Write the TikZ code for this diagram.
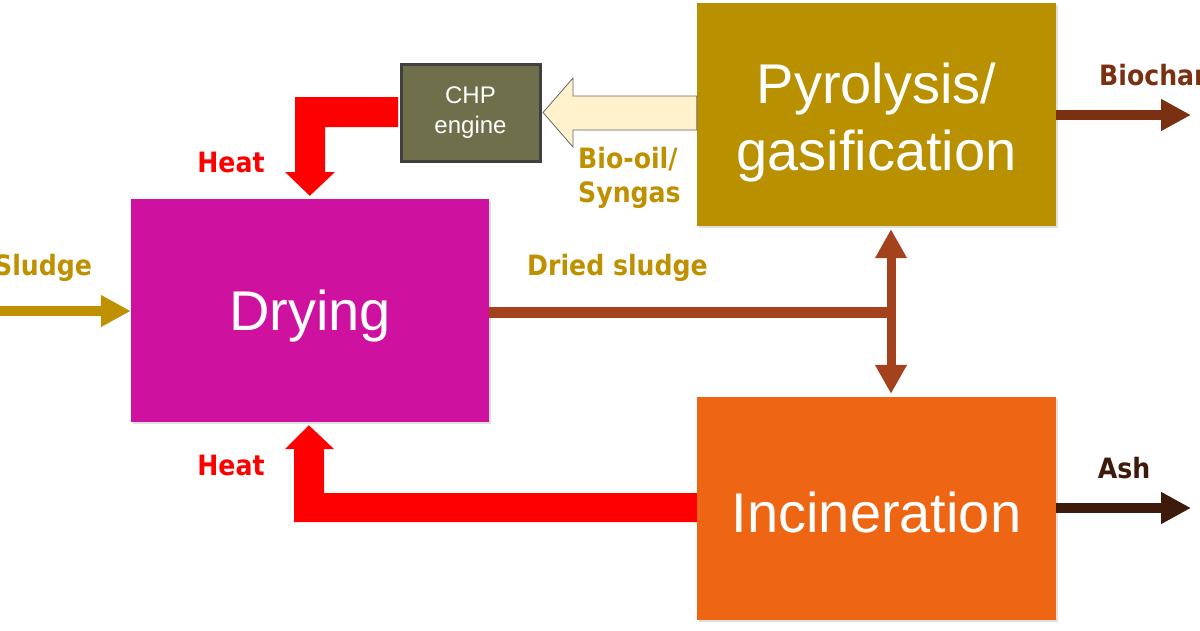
\documentclass[tikz,border=0pt]{standalone}
\usepackage{fontspec}
\setmainfont{Liberation Sans}
\newfontfamily\lblfont{DejaVu Sans Condensed}
\usetikzlibrary{arrows.meta,calc,shadows}
\definecolor{dryc}{RGB}{207,17,160}
\definecolor{pyrc}{RGB}{184,144,0}
\definecolor{incc}{RGB}{238,102,20}
\definecolor{chpc}{RGB}{111,111,75}
\definecolor{chpb}{RGB}{64,64,64}
\definecolor{goldc}{RGB}{191,144,0}
\definecolor{driedc}{RGB}{165,66,30}
\definecolor{charc}{RGB}{122,49,18}
\definecolor{ashc}{RGB}{61,26,10}
\definecolor{creamc}{RGB}{255,242,204}
\begin{document}
\begin{tikzpicture}[x=1pt,y=-1pt,
  box/.style={rectangle,inner sep=0pt,
     drop shadow={shadow xshift=2pt,shadow yshift=-2pt,opacity=0.25}},
  boxtext/.style={text=white,align=center,font=\fontsize{56}{67}\selectfont},
  lbl/.style={font=\lblfont\bfseries\fontsize{28}{34}\selectfont,inner sep=0pt},
  flow/.style={line width=10pt,-{Triangle[length=30pt,width=30pt]}},
  dflow/.style={line width=9pt,color=driedc,{Triangle[length=29pt,width=30pt]}-{Triangle[length=29pt,width=30pt]}}
]
\useasboundingbox (0,0) rectangle (1200,630);
\fill[white] (0,0) rectangle (1200,630);

% boxes
\node[box,fill=dryc,minimum width=358pt,minimum height=223pt,
      label={[boxtext,yshift=-6pt]center:Drying}] (dry) at (310,310.5) {};
\node[box,fill=pyrc,minimum width=359pt,minimum height=223pt,
      label={[boxtext,yshift=-8pt]center:Pyrolysis/\\gasification}] (pyr) at (876.5,114.5) {};
\node[box,fill=incc,minimum width=359pt,minimum height=223pt,
      label={[boxtext,yshift=-4pt]center:Incineration}] (inc) at (876.5,508.5) {};
\node[rectangle,fill=chpc,draw=chpb,line width=3pt,minimum width=139pt,minimum height=97pt,
      text=white,align=center,font=\fontsize{24}{33}\selectfont] (chp) at (470.5,112.5) {\raisebox{-3pt}{CHP}\\engine};

% hollow arrow pyrolysis -> CHP
\filldraw[fill=creamc,draw=gray!80!black,line width=0.8pt]
  ($(pyr.west)+(0,-18.5)$) -- (573,96) -- (573,78) -- ($(chp.east)+(1.5,0)$) -- (573,147) -- (573,130)
  -- ($(pyr.west)+(0,15.5)$) -- cycle;

% red heat arrow top: CHP -> Drying
\fill[red] ($(chp.west)+(-1.5,-15.5)$) -- (295,97) -- (295,172) -- (285,172) -- ($(dry.north west)+(179,-3)$)
  -- (335,172) -- (325,172) -- (325,127) -- ($(chp.west)+(-1.5,14.5)$) -- cycle;

% red heat arrow bottom: Incineration -> Drying
\fill[red] ($(inc.west)+(0,-15.5)$) -- (324,493) -- (324,449) -- (334,449) -- ($(dry.south west)+(178,3)$)
  -- (285,449) -- (294,449) -- (294,522) -- ($(inc.west)+(0,13.5)$) -- cycle;

% dried sludge
\coordinate (jn) at (891,312);
\draw[line width=11pt,color=driedc] (dry.east |- jn) -- ($(jn)+(4.5,0)$);
\draw[dflow] ($(pyr.south)+(14.5,3)$) -- ($(inc.north)+(14.5,-3)$);

% inputs/outputs
\coordinate (sl0) at (-2,311);
\draw[flow,color=goldc] (sl0) -- (dry.west |- sl0);
\coordinate (bc1) at (1191,115);
\draw[flow,color=charc] (pyr.east |- bc1) -- (bc1);
\coordinate (as1) at (1191,508);
\draw[flow,color=ashc] (inc.east |- as1) -- (as1);

% labels
\node[lbl,text=goldc,anchor=west] (lsl) at (-6,268) {Sludge};
\node[lbl,text=charc,anchor=west] (lbc) at (1099,75) {Biochar};
\node[lbl,text=ashc] (las) at (1124,468) {Ash};
\node[lbl,text=red] (lh1) at (231,162) {Heat};
\node[lbl,text=red] (lh2) at (231,465) {Heat};
\node[lbl,text=goldc,anchor=west] (ldr) at (527,268) {Dried sludge};
\node[lbl,text=goldc,anchor=north west,align=left] (lbo) at (578,147) {Bio-oil/\\Syngas};
\end{tikzpicture}
\end{document}
